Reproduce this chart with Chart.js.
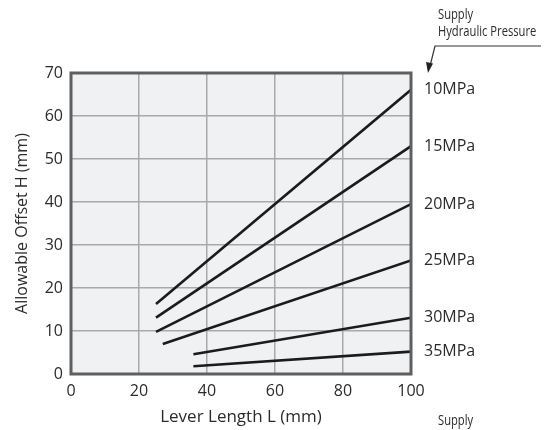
<!DOCTYPE html>
<html>
<head>
<meta charset="utf-8">
<script src="https://cdn.jsdelivr.net/npm/chart.js@4/dist/chart.umd.min.js"></script>
<style>
    html, body { margin: 0; padding: 0; background: #ffffff; }
    #wrap { width: 557px; height: 430px; position: relative; }
</style>
</head>
<body>
<div id="wrap"><canvas id="offsetChart" width="557" height="430"></canvas></div>
<script>
// Supply hydraulic pressure curves: allowable offset H vs lever length L
const pressures = ["10MPa", "15MPa", "20MPa", "25MPa", "30MPa", "35MPa"];
const leverStart = [25, 25, 25, 27, 36, 36];
const leverEnd = [100, 100, 100, 100, 100, 100];
const offsetStart = [16.3, 13.1, 9.8, 7.0, 4.6, 1.8];
const offsetEnd = [66.1, 53.0, 39.5, 26.4, 13.1, 5.2];

const xTicks = [0, 20, 40, 60, 80, 100];
const yTicks = [0, 10, 20, 30, 40, 50, 60, 70];

const textColor = "#2b2b2b";
const gridColor = "#a9a9a9";
const frameColor = "#5f5f5f";

const datasets = pressures.map((p, i) => ({
    label: p,
    data: [
        { x: leverStart[i], y: offsetStart[i] },
        { x: leverEnd[i], y: offsetEnd[i] },
    ],
    showLine: true,
    borderColor: "#1b1b1b",
    borderWidth: 2.6,
    borderCapStyle: "butt",
    pointRadius: 0,
    fill: false,
}));

// plot background + dark frame
const framePlugin = {
    id: "frame",
    beforeDraw(chart) {
        const { ctx, chartArea: a } = chart;
        ctx.save();
        ctx.fillStyle = "#f0f1f3";
        ctx.fillRect(a.left, a.top, a.right - a.left, a.bottom - a.top);
        ctx.restore();
    },
    afterDatasetsDraw(chart) {
        const { ctx, chartArea: a } = chart;
        ctx.save();
        ctx.strokeStyle = frameColor;
        ctx.lineWidth = 3;
        ctx.strokeRect(a.left, a.top, a.right - a.left, a.bottom - a.top);
        ctx.restore();
    },
};

// narrow text (no condensed font installed, so squeeze it a bit)
function narrowText(ctx, text, x, y) {
    ctx.save();
    ctx.translate(x, y);
    ctx.scale(0.8, 1);
    ctx.fillText(text, 0, 0);
    ctx.restore();
}

// pressure labels at line ends + the "Supply Hydraulic Pressure" callout
const labelPlugin = {
    id: "pressureLabels",
    afterDraw(chart) {
        const { ctx, chartArea: a } = chart;
        const yScale = chart.scales.y;
        ctx.save();
        ctx.fillStyle = textColor;
        ctx.font = "16px 'Open Sans'";
        ctx.textAlign = "left";
        ctx.textBaseline = "middle";
        pressures.forEach((p, i) => {
            ctx.fillText(p, a.right + 13, yScale.getPixelForValue(offsetEnd[i]));
        });

        ctx.font = "14px 'Open Sans'";
        narrowText(ctx, "Supply", 438, 15);
        narrowText(ctx, "Hydraulic Pressure", 438, 32);
        narrowText(ctx, "Supply", 438, 421);

        // leader line with arrow
        ctx.strokeStyle = "#333333";
        ctx.lineWidth = 1.2;
        ctx.beginPath();
        ctx.moveTo(541, 46);
        ctx.lineTo(435, 46);
        ctx.lineTo(430, 66);
        ctx.stroke();
        ctx.fillStyle = "#222222";
        ctx.beginPath();
        ctx.moveTo(428, 73);
        ctx.lineTo(426, 62);
        ctx.lineTo(433, 63.5);
        ctx.closePath();
        ctx.fill();
        ctx.restore();
    },
};

new Chart(document.getElementById("offsetChart").getContext("2d"), {
    type: "scatter",
    data: { datasets: datasets },
    options: {
        responsive: false,
        animation: false,
        layout: { padding: { left: 0, right: 146, top: 73, bottom: 0 } },
        plugins: {
            legend: { display: false },
            tooltip: { enabled: false },
        },
        scales: {
            x: {
                type: "linear",
                min: 0,
                max: 100,
                afterBuildTicks: (scale) => {
                    scale.ticks = xTicks.map((v) => ({ value: v }));
                },
                afterFit: (scale) => {
                    scale.height = 56;
                },
                grid: { color: gridColor, lineWidth: 1.5, drawTicks: false },
                border: { display: false },
                ticks: {
                    color: textColor,
                    padding: 8,
                    font: { family: "'Open Sans'", size: 16 },
                    maxRotation: 0,
                },
                title: {
                    display: true,
                    text: "Lever Length L (mm)",
                    color: textColor,
                    font: { family: "'Open Sans'", size: 17 },
                    padding: { top: 0, bottom: 3 },
                },
            },
            y: {
                type: "linear",
                min: 0,
                max: 70,
                afterBuildTicks: (scale) => {
                    scale.ticks = yTicks.map((v) => ({ value: v }));
                },
                afterFit: (scale) => {
                    scale.width = 71;
                },
                grid: { color: gridColor, lineWidth: 1.5, drawTicks: false },
                border: { display: false },
                ticks: {
                    color: textColor,
                    padding: 8,
                    font: { family: "'Open Sans'", size: 16 },
                },
                title: {
                    display: true,
                    text: "Allowable Offset H (mm)",
                    color: textColor,
                    font: { family: "'Open Sans'", size: 16 },
                    padding: { top: 13, bottom: 0 },
                },
            },
        },
    },
    plugins: [framePlugin, labelPlugin],
});
</script>
</body>
</html>
